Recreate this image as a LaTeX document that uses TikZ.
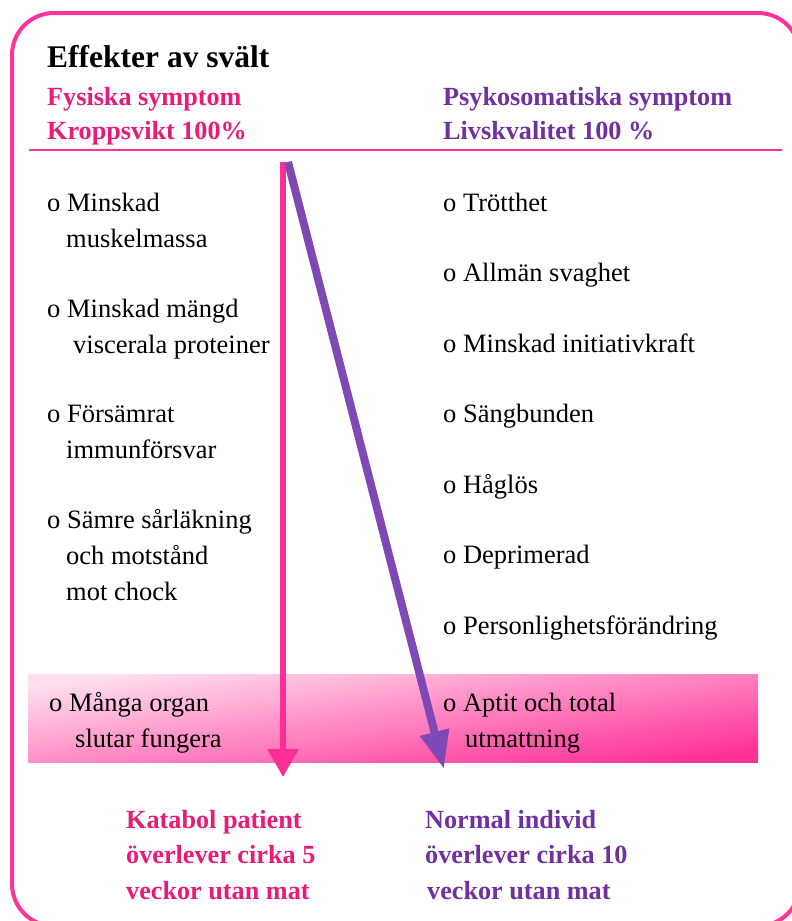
\documentclass[tikz,border=0pt]{standalone}
\usepackage{fontspec}
\setmainfont{Liberation Serif}
\usepackage{tikz}
\usetikzlibrary{arrows.meta}
\definecolor{framepink}{RGB}{255,51,153}
\definecolor{headpink}{RGB}{232,28,120}
\definecolor{headpurple}{RGB}{112,48,160}
\definecolor{arrowpink}{RGB}{255,45,150}
\definecolor{arrowpurple}{RGB}{128,72,180}
\definecolor{bandlight}{RGB}{255,224,240}
\definecolor{banddark}{RGB}{255,48,150}
% multi-line nodes sit on the baseline of their last line
\tikzset{
  frame/.style    ={draw=framepink, line width=4pt, rounded corners=42pt},
  rulel/.style    ={draw=framepink, line width=2pt},
  item/.style     ={anchor=base west, align=left, inner sep=0pt,
                    font=\fontsize{26.5}{36}\selectfont},
  titletxt/.style ={anchor=base west, inner sep=0pt,
                    font=\bfseries\fontsize{31.5}{36}\selectfont},
  pinktxt/.style  ={anchor=base west, align=left, inner sep=0pt, text=headpink,
                    font=\bfseries\fontsize{26.2}{34}\selectfont},
  purpletxt/.style={anchor=base west, align=left, inner sep=0pt, text=headpurple,
                    font=\bfseries\fontsize{26.2}{34}\selectfont},
  outcome/.style  ={font=\bfseries\fontsize{26.2}{35.5}\selectfont},
  pinkar/.style   ={-{Triangle[width=30pt,length=28pt]}, draw=arrowpink, line width=6pt},
  purplear/.style ={-{Triangle[width=28pt,length=38pt]}, draw=arrowpurple, line width=8pt},
}

\begin{document}
\begin{tikzpicture}[x=1pt,y=-1pt]
\useasboundingbox (0,0) rectangle (792,921);
\clip (0,0) rectangle (792,921);
% frame and band
\draw[frame] (12,13) rectangle (800,926);
\draw[rulel] (29,150) -- (782,150);
\fill[top color=bandlight, bottom color=banddark, shading angle=8] (28,674) rectangle (758,762);

% headings
\node[titletxt] (title) at (47,67) {Effekter av svält};
\node[pinktxt] (physhead) at (47,139) {Fysiska symptom\\Kroppsvikt 100\%};
\node[purpletxt] (psyhead) at (443,139) {Psykosomatiska symptom\\Livskvalitet 100 \%};

% arrows
\coordinate (pinktop) at (283,162);
\coordinate (pinkend) at (283,777);
\coordinate (purpletop) at (288,162);
\coordinate (purpleend) at (444,769);
\draw[pinkar] (pinktop) -- (pinkend);
\draw[purplear] (purpletop) -- (purpleend);

% physical symptoms
\node[item] (phys1) at (47,247) {o Minskad\\\hspace*{19pt}muskelmassa};
\node[item] (phys2) at (47,353) {o Minskad mängd\\\hspace*{26pt}viscerala proteiner};
\node[item] (phys3) at (47,458) {o Försämrat\\\hspace*{19pt}immunförsvar};
\node[item] (phys4) at (47,600) {o Sämre sårläkning\\\hspace*{19pt}och motstånd\\\hspace*{19pt}mot chock};
\node[item] (phys5) at (49,747) {o Många organ\\\hspace*{26pt}slutar fungera};

% psychosomatic symptoms
\foreach \i/\txt in {0/Trötthet, 1/Allmän svaghet, 2/Minskad initiativkraft, 3/Sängbunden,
                     4/Håglös, 5/Deprimerad, 6/Personlighetsförändring}{
  \node[item] (psy\i) at (443,211+70.5*\i) {o \txt};
}
\node[item] (psy7) at (443,747) {o Aptit och total\\\hspace*{22pt}utmattning};

% outcomes
\node[pinktxt,outcome] (katabol) at (126,899) {Katabol patient\\överlever cirka 5\\veckor utan mat};
\node[purpletxt,outcome] (normal) at (425,899) {Normal individ\\överlever cirka 10\\\hspace*{2pt}veckor utan mat};
\end{tikzpicture}
\end{document}
